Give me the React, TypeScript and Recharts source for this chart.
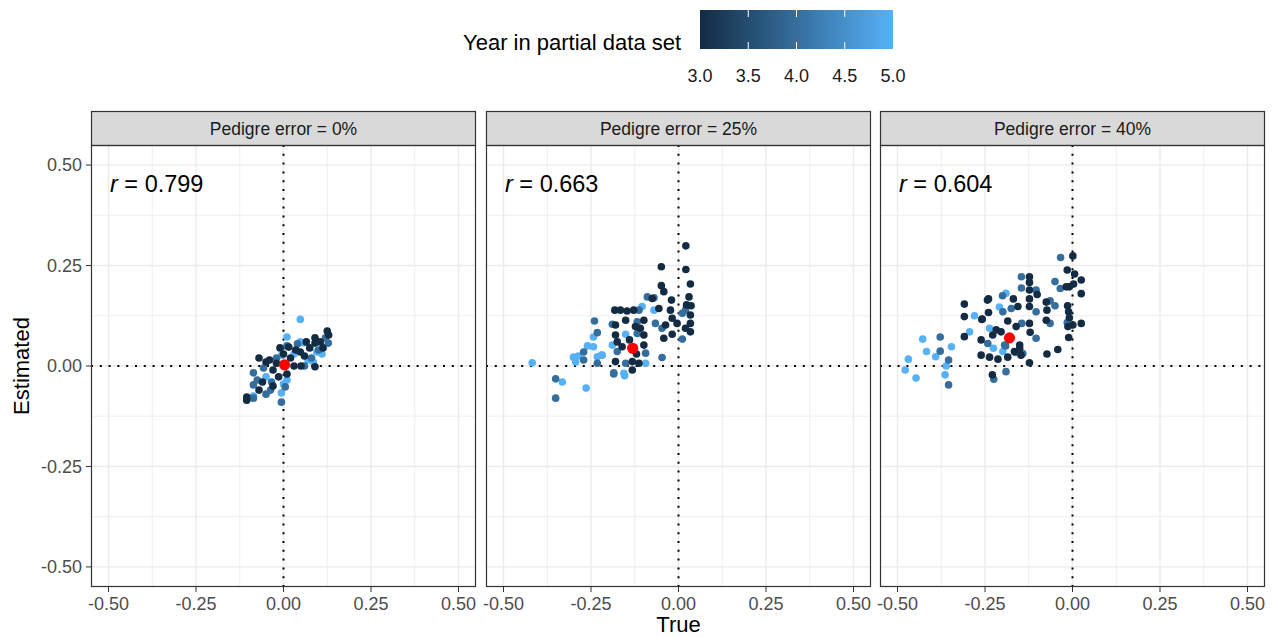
import React from 'react';
import { ScatterChart, Scatter, XAxis, YAxis, ReferenceLine } from 'recharts';

// facet strip titles and correlation labels
const facetTitles = ['Pedigre error = 0%', 'Pedigre error = 25%', 'Pedigre error = 40%'];
const corrLabels = ['0.799', '0.663', '0.604'];

const axisTicks = [-0.5, -0.25, 0, 0.25, 0.5];
const minorBreaks = [-0.375, -0.125, 0.125, 0.375];
const legendTicks = [3.0, 3.5, 4.0, 4.5, 5.0];

// mean point (red) per panel
const meanTrue = [0.003, -0.131, -0.18];
const meanEst = [0.003, 0.044, 0.07];

// [true, estimated, year]
const error0: number[][] = [
  [0.048, 0.116, 5], [0.095, 0.035, 5], [0.048, 0.06, 5], [0.058, 0.058, 5], [0.01, 0.072, 5],
  [0.07, 0.015, 5], [-0.005, 0.027, 5], [-0.05, -0.027, 5], [0.01, -0.035, 5], [-0.006, -0.067, 5],
  [-0.086, -0.075, 5], [0.11, 0.03, 5], [0.03, 0.03, 5], [0.0, -0.045, 5], [0.085, 0.01, 5],
  [0.128, 0.057, 4], [0.01, 0.05, 4], [0.08, 0.02, 4], [-0.057, -0.005, 4], [-0.086, -0.017, 4],
  [-0.086, -0.047, 4], [-0.034, -0.04, 4], [0.005, -0.052, 4], [-0.037, -0.06, 4], [-0.086, -0.08, 4],
  [-0.006, -0.09, 4], [-0.075, -0.035, 4], [0.06, 0.0, 4], [-0.02, 0.02, 4], [0.04, 0.055, 4],
  [0.1, 0.04, 4], [0.12, 0.07, 4], [-0.05, -0.07, 4],
  [0.125, 0.087, 3], [0.129, 0.077, 3], [0.09, 0.07, 3], [0.09, 0.057, 3], [0.113, 0.045, 3],
  [0.048, 0.035, 3], [0.015, 0.047, 3], [0.05, 0.0, 3], [0.09, -0.002, 3], [0.03, 0.0, 3],
  [-0.07, 0.02, 3], [-0.05, 0.01, 3], [-0.02, 0.007, 3], [-0.03, -0.01, 3], [-0.014, -0.027, 3],
  [-0.07, -0.06, 3], [-0.105, -0.077, 3], [-0.105, -0.085, 3], [0.06, 0.025, 3], [0.075, 0.045, 3],
  [0.02, 0.02, 3], [0.0, 0.03, 3], [-0.01, 0.045, 3], [0.035, 0.04, 3], [0.065, 0.06, 3],
  [-0.04, 0.015, 3], [-0.06, -0.04, 3], [-0.03, -0.05, 3], [0.105, 0.06, 3], [0.01, -0.02, 3],
];

const error25: number[][] = [
  [-0.418, 0.008, 5], [-0.332, -0.04, 5], [-0.264, -0.055, 5], [-0.3, 0.022, 5], [-0.286, 0.025, 5],
  [-0.294, 0.01, 5], [-0.26, 0.05, 5], [-0.243, 0.048, 5], [-0.243, 0.072, 5], [-0.232, 0.023, 5],
  [-0.22, 0.027, 5], [-0.104, 0.148, 5], [-0.07, 0.139, 5], [-0.151, 0.079, 5], [-0.189, 0.052, 5],
  [-0.218, 0.027, 5], [-0.094, 0.007, 5], [-0.156, -0.018, 5], [-0.154, -0.024, 5],
  [-0.351, -0.032, 4], [-0.351, -0.08, 4], [-0.271, 0.035, 4], [-0.271, 0.015, 4], [-0.24, 0.112, 4],
  [-0.232, 0.083, 4], [-0.232, 0.007, 4], [-0.185, -0.02, 4], [-0.089, 0.172, 4], [-0.07, 0.17, 4],
  [-0.113, 0.139, 4], [0.011, 0.131, 4], [0.02, 0.139, 4], [-0.066, 0.106, 4], [-0.047, 0.094, 4],
  [0.011, 0.067, 4], [-0.118, 0.11, 4], [-0.189, 0.104, 4], [-0.118, 0.081, 4], [-0.175, 0.036, 4],
  [-0.094, 0.032, 4], [-0.151, 0.007, 4], [-0.047, 0.021, 4], [-0.185, -0.017, 4],
  [0.021, 0.299, 3], [-0.049, 0.247, 3], [0.021, 0.24, 3], [0.034, 0.204, 3], [-0.049, 0.2, 3],
  [-0.042, 0.185, 3], [-0.02, 0.164, 3], [0.03, 0.172, 3], [0.023, 0.152, 3], [0.036, 0.15, 3],
  [-0.075, 0.168, 3], [-0.182, 0.139, 3], [-0.166, 0.139, 3], [-0.128, 0.139, 3], [-0.147, 0.137, 3],
  [-0.056, 0.143, 3], [-0.023, 0.139, 3], [0.034, 0.127, 3], [-0.018, 0.119, 3], [-0.004, 0.106, 3],
  [-0.037, 0.102, 3], [0.034, 0.106, 3], [0.02, 0.094, 3], [0.034, 0.085, 3], [-0.018, 0.079, 3],
  [-0.042, 0.069, 3], [-0.099, 0.114, 3], [-0.109, 0.094, 3], [-0.123, 0.098, 3], [-0.151, 0.114, 3],
  [-0.18, 0.102, 3], [-0.099, 0.077, 3], [-0.18, 0.077, 3], [-0.175, 0.06, 3], [-0.161, 0.048, 3],
  [-0.099, 0.052, 3], [-0.18, 0.011, 3], [-0.132, 0.011, 3], [-0.113, 0.007, 3], [-0.132, -0.01, 3],
  [-0.14, 0.065, 3], [-0.12, 0.03, 3],
];

const error40: number[][] = [
  [-0.478, -0.01, 5], [-0.469, 0.017, 5], [-0.447, -0.03, 5], [-0.428, 0.067, 5], [-0.417, 0.036, 5],
  [-0.391, 0.023, 5], [-0.361, 0.0, 5], [-0.364, -0.022, 5], [-0.346, 0.048, 5], [-0.28, 0.125, 5],
  [-0.294, 0.085, 5], [-0.226, 0.044, 5], [-0.237, 0.094, 5], [-0.19, 0.181, 5], [-0.209, 0.147, 5],
  [-0.199, 0.036, 5],
  [-0.378, 0.072, 4], [-0.378, 0.037, 4], [-0.354, 0.015, 4], [-0.354, -0.047, 4], [-0.225, -0.033, 4],
  [-0.19, -0.014, 4], [-0.034, 0.27, 4], [-0.142, 0.031, 4], [-0.242, 0.056, 4], [-0.191, 0.05, 4],
  [-0.05, 0.21, 4], [-0.035, 0.193, 4], [-0.146, 0.222, 4], [-0.146, 0.194, 4], [-0.104, 0.189, 4],
  [-0.2, 0.175, 4], [-0.199, 0.135, 4], [-0.175, 0.143, 4], [-0.104, 0.135, 4], [-0.064, 0.162, 4],
  [-0.05, 0.15, 4], [-0.015, 0.108, 4], [-0.064, 0.106, 4], [-0.145, 0.106, 4], [-0.104, 0.069, 4],
  [-0.164, 0.034, 4], [-0.194, 0.052, 4],
  [-0.309, 0.154, 3], [-0.309, 0.123, 3], [-0.309, 0.073, 3], [-0.258, 0.117, 3], [-0.243, 0.164, 3],
  [-0.229, -0.022, 3], [-0.123, 0.008, 3], [-0.073, 0.03, 3], [-0.042, 0.041, 3], [-0.011, 0.071, 3],
  [0.025, 0.106, 3], [0.001, 0.274, 3], [-0.24, 0.167, 3], [-0.24, 0.133, 3], [-0.259, 0.116, 3],
  [-0.218, 0.09, 3], [-0.261, 0.065, 3], [-0.261, 0.027, 3], [-0.237, 0.022, 3], [-0.213, 0.017, 3],
  [-0.185, 0.022, 3], [-0.166, 0.036, 3], [-0.228, 0.077, 3], [-0.204, 0.085, 3], [-0.151, 0.044, 3],
  [-0.015, 0.239, 3], [0.006, 0.229, 3], [0.025, 0.214, 3], [0.025, 0.18, 3], [0.003, 0.204, 3],
  [-0.009, 0.197, 3], [-0.018, 0.197, 3], [-0.123, 0.222, 3], [-0.123, 0.208, 3], [-0.123, 0.189, 3],
  [-0.101, 0.178, 3], [-0.169, 0.167, 3], [-0.123, 0.167, 3], [-0.156, 0.148, 3], [-0.123, 0.148, 3],
  [-0.075, 0.159, 3], [-0.073, 0.139, 3], [-0.014, 0.15, 3], [-0.011, 0.135, 3], [-0.009, 0.12, 3],
  [0.001, 0.102, 3], [-0.075, 0.114, 3], [-0.013, 0.098, 3], [-0.185, 0.112, 3], [-0.161, 0.098, 3],
  [-0.123, 0.106, 3], [-0.121, 0.084, 3], [-0.151, 0.052, 3], [-0.147, 0.027, 3],
];

const panels = [error0, error25, error40];

const FONT = "'Liberation Sans', Arial, Helvetica, sans-serif";
const PANEL_LEFT = [91, 486, 880];
const PW = 385;
const PT = 145;
const PH = 442;
const STRIP_TOP = 111;

const LOW = [0x13, 0x2b, 0x43];
const HIGH = [0x56, 0xb1, 0xf7];
const colour = (yr: number) => {
  const t = Math.max(0, Math.min(1, (yr - 3) / 2));
  const c = LOW.map((v, k) => Math.round(v + (HIGH[k] - v) * t));
  return `rgb(${c[0]},${c[1]},${c[2]})`;
};

const dot = (props: any) => {
  const yr = props.payload ? props.payload.year : 3;
  return <circle cx={props.cx} cy={props.cy} r={3.8} fill={colour(yr)} />;
};
const redDot = (props: any) => <circle cx={props.cx} cy={props.cy} r={5.6} fill="#ff0000" />;

const fmt = (v: number) => v.toFixed(2);

function Panel({ i }: { i: number }) {
  const first = i === 0;
  const padL = first ? 91 : 4;
  const data = panels[i].map(([x, y, year]) => ({ x, y, year }));
  const mean = [{ x: meanTrue[i], y: meanEst[i] }];
  const tickStyle = { fill: '#4d4d4d', fontSize: 18, fontFamily: FONT };
  return (
    <div style={{ position: 'absolute', left: PANEL_LEFT[i] - padL, top: PT - 10 }}>
      <ScatterChart
        width={padL + PW + 24}
        height={10 + PH + 50}
        margin={{ top: 10, right: 24, bottom: 0, left: first ? 0 : 4 }}
      >
        <XAxis
          type="number"
          dataKey="x"
          domain={[-0.55, 0.55]}
          ticks={axisTicks}
          interval={0}
          tickFormatter={fmt}
          axisLine={false}
          tickLine={{ stroke: '#333333' }}
          tickSize={5}
          tickMargin={5}
          height={50}
          tick={tickStyle}
        />
        <YAxis
          type="number"
          dataKey="y"
          domain={[-0.55, 0.55]}
          ticks={axisTicks}
          interval={0}
          tickFormatter={fmt}
          axisLine={false}
          tickLine={{ stroke: '#333333' }}
          tickSize={5}
          tickMargin={4}
          width={91}
          hide={!first}
          tick={tickStyle}
        />
        {minorBreaks.map((v) => (
          <ReferenceLine key={'mx' + v} x={v} stroke="#ebebeb" strokeWidth={0.8} />
        ))}
        {minorBreaks.map((v) => (
          <ReferenceLine key={'my' + v} y={v} stroke="#ebebeb" strokeWidth={0.8} />
        ))}
        {axisTicks.map((v) => (
          <ReferenceLine key={'gx' + v} x={v} stroke="#ebebeb" strokeWidth={1.4} />
        ))}
        {axisTicks.map((v) => (
          <ReferenceLine key={'gy' + v} y={v} stroke="#ebebeb" strokeWidth={1.4} />
        ))}
        <ReferenceLine x={0} stroke="#000" strokeWidth={2} strokeDasharray="2 6.8" />
        <ReferenceLine y={0} stroke="#000" strokeWidth={2} strokeDasharray="2 6.8" />
        <Scatter data={data} isAnimationActive={false} shape={dot} />
        <Scatter data={mean} isAnimationActive={false} shape={redDot} />
      </ScatterChart>
    </div>
  );
}

function Overlay() {
  const lx0 = 700;
  const lx1 = 893;
  const lscale = (v: number) => lx0 + ((v - 3) / 2) * (lx1 - lx0);
  return (
    <svg
      width={1272}
      height={638}
      style={{ position: 'absolute', left: 0, top: 0, pointerEvents: 'none' }}
      fontFamily={FONT}
    >
      <defs>
        <linearGradient id="yearGrad" x1="0" x2="1" y1="0" y2="0">
          {[0, 0.25, 0.5, 0.75, 1].map((t) => (
            <stop key={t} offset={t} stopColor={colour(3 + 2 * t)} />
          ))}
        </linearGradient>
      </defs>
      {/* legend */}
      <text x={463} y={50} fontSize={22} fill="#000">Year in partial data set</text>
      <rect x={lx0} y={10} width={lx1 - lx0} height={39} fill="url(#yearGrad)" />
      {legendTicks.slice(1, -1).map((v) => (
        <g key={v}>
          <line x1={lscale(v)} x2={lscale(v)} y1={10} y2={17} stroke="#fff" strokeWidth={1} />
          <line x1={lscale(v)} x2={lscale(v)} y1={42} y2={49} stroke="#fff" strokeWidth={1} />
        </g>
      ))}
      {legendTicks.map((v) => (
        <text key={'l' + v} x={lscale(v)} y={82} fontSize={18} textAnchor="middle" fill="#1a1a1a">
          {v.toFixed(1)}
        </text>
      ))}
      {/* strips, borders, correlation labels */}
      {PANEL_LEFT.map((l, i) => (
        <g key={i}>
          <rect x={l + 0.5} y={STRIP_TOP + 0.5} width={PW - 1} height={PT - STRIP_TOP} fill="#d9d9d9" stroke="#333333" strokeWidth={1.2} />
          <text x={l + PW / 2} y={134.5} fontSize={17.5} textAnchor="middle" fill="#1a1a1a">
            {facetTitles[i]}
          </text>
          <rect x={l + 0.5} y={PT + 0.5} width={PW - 1} height={PH - 1} fill="none" stroke="#333333" strokeWidth={1.2} />
          <text x={l + 19} y={192} fontSize={23.5} fill="#000">
            <tspan fontStyle="italic">r</tspan> = {corrLabels[i]}
          </text>
        </g>
      ))}
      {/* axis titles */}
      <text transform="translate(29,366) rotate(-90)" fontSize={22} textAnchor="middle" fill="#000">Estimated</text>
      <text x={678.5} y={632} fontSize={22} textAnchor="middle" fill="#000">True</text>
    </svg>
  );
}

export default function App() {
  return (
    <div style={{ position: 'absolute', left: 0, top: 0, width: 1272, height: 638, background: '#fff', fontFamily: FONT }}>
      {[0, 1, 2].map((i) => (
        <Panel key={i} i={i} />
      ))}
      <Overlay />
    </div>
  );
}
